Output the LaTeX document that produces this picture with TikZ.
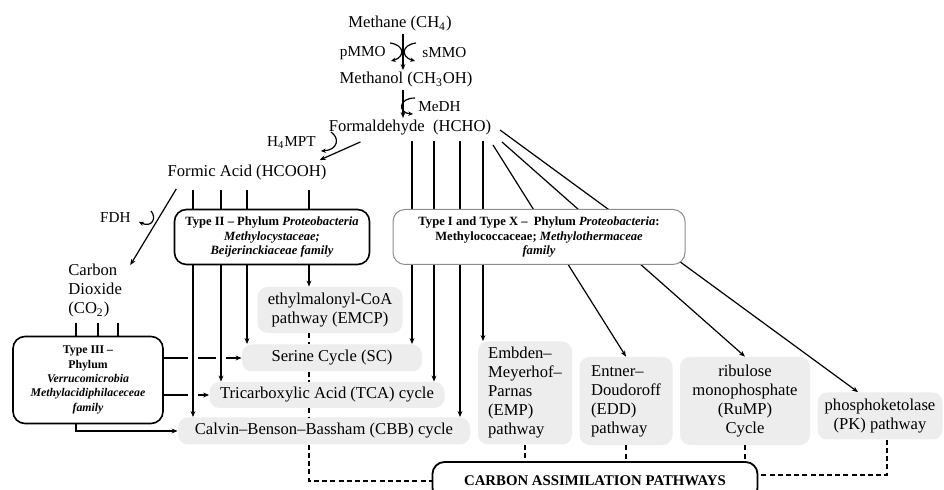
\documentclass[tikz,border=0pt]{standalone}
\usepackage{fontspec}
\setmainfont{Liberation Serif}
\usetikzlibrary{arrows.meta,calc}
\tikzset{
  chem/.style={inner sep=1pt,font=\fontsize{8.3}{9.5}\selectfont},
  enz/.style={inner sep=1pt,font=\fontsize{7.6}{9}\selectfont},
  pathbox/.style={fill=black!7,rounded corners=5pt,inner sep=1pt,align=center,font=\fontsize{8.3}{9.5}\selectfont},
  groupbox/.style={draw,line width=0.8pt,fill=white,rounded corners=6pt,inner sep=1pt,align=center,font=\bfseries\fontsize{6.3}{7.4}\selectfont},
  arr/.style={-{Stealth[length=3pt,width=2.4pt]},line width=0.6pt},
  curl/.style={-{Stealth[length=2.4pt,width=2.2pt]},line width=0.6pt},
  bridge/.style={preaction={draw=white,line width=5pt,-}},
  dashline/.style={dash pattern=on 2.5pt off 1.6pt,line width=0.6pt}
}
\begin{document}
\begin{tikzpicture}[x=0.5pt,y=-0.5pt]
\useasboundingbox (0,0) rectangle (944,490);

\node[chem] (methane) at (400,24) {Methane (CH\textsubscript{4})};
\node[enz,anchor=east] (pmmo) at (388,53) {pMMO};
\node[enz,anchor=west] (smmo) at (420,53) {sMMO};
\node[chem] (methanol) at (406,80) {Methanol (CH\textsubscript{3}OH)};
\node[enz,anchor=west] (medh) at (416,107) {MeDH};
\node[chem] (formald) at (410,128) {Formaldehyde\enspace(HCHO)};
\node[enz,anchor=east] (h4mpt) at (318,143) {H\textsubscript{4}MPT};
\node[chem] (formic) at (247,173) {Formic Acid (HCOOH)};
\node[enz,anchor=east] (fdh) at (133,218) {FDH};
\node[chem,align=left,anchor=west] (co2) at (66,291) {Carbon\\Dioxide\\(CO\textsubscript{2})};

\node[pathbox,minimum width=72.5pt,minimum height=23pt] (emcp) at (330,310) {ethylmalonyl-CoA\\pathway (EMCP)};
\node[pathbox,minimum width=90pt,minimum height=13.5pt] (serine) at (332,358) {Serine Cycle (SC)};
\node[pathbox,minimum width=117.5pt,minimum height=13pt] (tca) at (327,395) {Tricarboxylic Acid (TCA) cycle};
\node[pathbox,minimum width=146pt,minimum height=13.5pt] (cbb) at (324,431) {Calvin–Benson–Bassham (CBB) cycle};
\node[pathbox,align=left,minimum width=47pt,minimum height=51.5pt] (emp) at (525,393) {Embden–\\Meyerhof–\\Parnas\\(EMP)\\pathway};
\node[pathbox,align=left,minimum width=46.5pt,minimum height=44pt] (edd) at (626,401) {Entner–\\Doudoroff\\(EDD)\\pathway};
\node[pathbox,minimum width=65pt,minimum height=44pt] (rump) at (745,401) {ribulose\\monophosphate\\(RuMP)\\Cycle};
\node[pathbox,minimum width=62.5pt,minimum height=23.5pt] (pk) at (880,416) {phosphoketolase\\(PK) pathway};
\node[groupbox,line width=0.9pt,font=\bfseries\fontsize{7.4}{8.5}\selectfont,minimum width=162.5pt,minimum height=19pt] (carbon) at (595,481) {CARBON ASSIMILATION PATHWAYS};
\node[groupbox,font=\bfseries\fontsize{5.9}{7.2}\selectfont,minimum width=75pt,minimum height=43.5pt] (typeiii) at (88,380) {Type III –\\Phylum\\\textit{Verrucomicrobia}\\\textit{Methylacidiphilaceceae}\\\textit{family}};

\coordinate (ax) at (403,0);
\draw[arr] (ax |- methane.south) -- (ax |- methanol.north);
\draw[arr] (ax |- methanol.south) -- (ax |- formald.north);
\draw[curl] (390,43) .. controls (405,45) and (405,57) .. (391,61);
\draw[curl] (416,43) .. controls (401,45) and (401,57) .. (415,61);
\draw[curl] (415,98) .. controls (398,98) and (398,113) .. (413,114);
\draw[arr] ($(formald.south west)+(34,4)$) -- ($(formic.north east)+(-9,-3)$);
\draw[curl] (331,132) .. controls (340,138) and (338,150) .. (321,151);
\draw[arr] ($(formic.south west)+(11,6)$) -- ($(co2.north east)+(6,3)$);
\draw[curl] (151,211) .. controls (157,218) and (152,228) .. (139,222);

\foreach \x in {76,98,118}
  \draw[line width=0.6pt] (\x,323) -- (\x,0 |- typeiii.north);
\draw[arr] (typeiii.east |- serine.west) -- (serine.west);
\draw[arr] (typeiii.east |- tca.west) -- (tca.west);
\draw[arr] (76,0 |- typeiii.south) |- (cbb.west);

\coordinate (fa1) at (193,190);
\coordinate (fa2) at (221,190);
\coordinate (fa3) at (247,190);
\coordinate (fa4) at (309,190);
\coordinate (fo1) at (412,141);
\coordinate (fo2) at (434,141);
\coordinate (fo3) at (460,141);
\coordinate (fo4) at (483,141);
\coordinate (fd1) at (493,145);
\coordinate (fd2) at (502,142);
\coordinate (fd3) at (500,130);

\foreach \c/\t in {fa1/cbb,fa2/tca}
  \draw[arr,bridge] (\c) -- (\c |- \t.north);
\foreach \c/\t in {fa3/serine,fa4/emcp,fo1/serine,fo2/tca,fo3/cbb,fo4/emp}
  \draw[arr] (\c) -- (\c |- \t.north);
\draw[arr] (fd1) -- (edd.north);
\draw[arr] (fd2) -- (rump.north);
\draw[arr] (fd3) -- ($(pk.north)+(-22,0)$);

\foreach \a/\b in {emcp/serine,serine/tca,tca/cbb}
  \draw[dashline] (fa4 |- \a.south) -- (fa4 |- \b.north);
\draw[dashline] (fa4 |- cbb.south) |- (carbon.west);
\foreach \a in {emp,edd,rump}
  \draw[dashline] (\a.south) -- (\a.south |- carbon.north);
\draw[dashline] ($(pk.south)+(7,0)$) |- ([yshift=3pt]carbon.east);

\node[groupbox,minimum width=97.5pt,minimum height=27.5pt] (typeii) at (272,237) {Type II – Phylum \textit{Proteobacteria}\\\textit{Methylocystaceae;}\\\textit{Beijerinckiaceae family}};
\node[groupbox,draw=black!45,line width=0.5pt,minimum width=146pt,minimum height=27.5pt] (typei) at (539,237) {Type I and Type X –\enspace Phylum \textit{Proteobacteria}:\\Methylococcaceae; \textit{Methylothermaceae}\\\textit{family}};

\end{tikzpicture}
\end{document}
